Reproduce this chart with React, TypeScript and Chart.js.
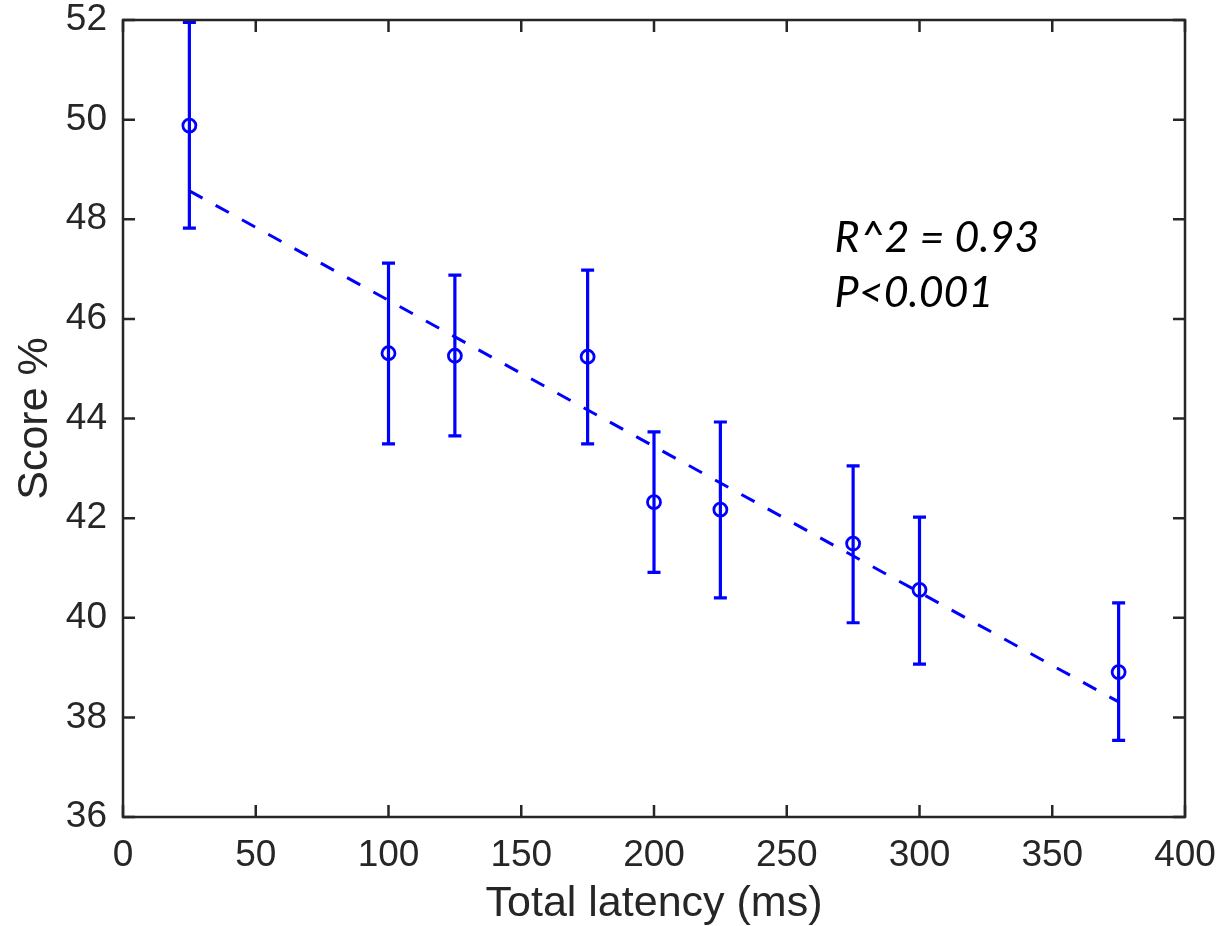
import React, { useEffect, useRef } from "react";
import { Chart, registerables } from "chart.js";

Chart.register(...registerables);

const latency = [25, 100, 125, 175, 200, 225, 275, 300, 375];
const scoreMean = [49.88, 45.31, 45.26, 45.24, 42.32, 42.17, 41.49, 40.56, 38.91];
const scoreUpper = [51.95, 47.12, 46.88, 46.98, 43.73, 43.93, 43.05, 42.02, 40.3];
const scoreLower = [47.82, 43.49, 43.65, 43.49, 40.91, 40.4, 39.9, 39.07, 37.54];
const fitX = [25, 375];
const fitY = [48.57, 38.31];
const annotationLines = ["R^2 = 0.93", "P<0.001"];
const annotationAnchor = { x: 268, y: 47.35 };

const BLUE = "#0000FF";
const AXIS = "#262626";

const errorBarPlugin = {
  id: "errorBars",
  afterDatasetsDraw(chart: any) {
    const { ctx, scales, chartArea } = chart;
    const xs = scales.x;
    const ys = scales.y;
    ctx.save();
    ctx.beginPath();
    ctx.rect(chartArea.left - 2, chartArea.top - 2, chartArea.right - chartArea.left + 4, chartArea.bottom - chartArea.top + 4);
    ctx.clip();
    ctx.strokeStyle = BLUE;
    ctx.lineWidth = 3.2;
    const cap = 6.5;
    latency.forEach((x, i) => {
      const px = xs.getPixelForValue(x);
      const pu = ys.getPixelForValue(scoreUpper[i]);
      const pl = ys.getPixelForValue(scoreLower[i]);
      ctx.beginPath();
      ctx.moveTo(px, pu);
      ctx.lineTo(px, pl);
      ctx.moveTo(px - cap, pu);
      ctx.lineTo(px + cap, pu);
      ctx.moveTo(px - cap, pl);
      ctx.lineTo(px + cap, pl);
      ctx.stroke();
    });
    ctx.restore();
  },
};

const boxPlugin = {
  id: "matlabBox",
  afterDraw(chart: any) {
    const { ctx, scales, chartArea } = chart;
    const { left, right, top, bottom } = chartArea;
    const tl = 12;
    ctx.save();
    ctx.strokeStyle = AXIS;
    ctx.lineWidth = 2.5;
    ctx.beginPath();
    scales.x.ticks.forEach((t: any) => {
      const px = scales.x.getPixelForValue(t.value);
      ctx.moveTo(px, bottom);
      ctx.lineTo(px, bottom - tl);
      ctx.moveTo(px, top);
      ctx.lineTo(px, top + tl);
    });
    scales.y.ticks.forEach((t: any) => {
      const py = scales.y.getPixelForValue(t.value);
      ctx.moveTo(left, py);
      ctx.lineTo(left + tl, py);
      ctx.moveTo(right, py);
      ctx.lineTo(right - tl, py);
    });
    ctx.stroke();
    ctx.strokeRect(left, top, right - left, bottom - top);

    // annotation
    const ax = scales.x.getPixelForValue(annotationAnchor.x);
    const ay = scales.y.getPixelForValue(annotationAnchor.y);
    ctx.fillStyle = "#000000";
    ctx.font = "italic 43px Lato";
    ctx.textAlign = "left";
    ctx.textBaseline = "alphabetic";
    annotationLines.forEach((line, i) => {
      ctx.fillText(line, ax, ay + i * 55);
    });
    ctx.restore();
  },
};

function zeroPadding(scale: any) {
  scale.paddingTop = 0;
  scale.paddingBottom = 0;
  scale.paddingLeft = 0;
  scale.paddingRight = 0;
}

export default function App() {
  const canvasRef = useRef<HTMLCanvasElement | null>(null);

  useEffect(() => {
    document.body.style.margin = "0";
    const canvas = canvasRef.current;
    if (!canvas) return;
    const chart = new Chart(canvas, {
      type: "scatter",
      data: {
        datasets: [
          {
            type: "line",
            data: fitX.map((x, i) => ({ x, y: fitY[i] })),
            borderColor: BLUE,
            borderWidth: 3,
            borderDash: [15, 15],
            pointRadius: 0,
            fill: false,
          },
          {
            type: "scatter",
            data: latency.map((x, i) => ({ x, y: scoreMean[i] })),
            pointStyle: "circle",
            pointRadius: 6.5,
            borderColor: BLUE,
            borderWidth: 2.8,
            backgroundColor: "rgba(0,0,0,0)",
          },
        ],
      },
      options: {
        animation: false,
        responsive: false,
        devicePixelRatio: 1,
        layout: { padding: { top: 20, right: 37, left: 0, bottom: 0 } },
        plugins: {
          legend: { display: false },
          tooltip: { enabled: false },
        },
        scales: {
          x: {
            type: "linear",
            min: 0,
            max: 400,
            grid: { display: false },
            border: { display: false },
            ticks: {
              stepSize: 50,
              padding: 9,
              color: AXIS,
              font: { family: "'Liberation Sans', Arial, sans-serif", size: 37 },
              maxRotation: 0,
            },
            title: {
              display: true,
              text: "Total latency (ms)",
              color: AXIS,
              font: { family: "'Liberation Sans', Arial, sans-serif", size: 43, lineHeight: 1 },
              padding: { top: 0, bottom: 0 },
            },
            afterFit(scale: any) {
              scale.height = 109;
              zeroPadding(scale);
            },
          },
          y: {
            type: "linear",
            min: 36,
            max: 52,
            grid: { display: false },
            border: { display: false },
            ticks: {
              stepSize: 2,
              padding: 8,
              color: AXIS,
              font: { family: "'Liberation Sans', Arial, sans-serif", size: 37 },
            },
            title: {
              display: true,
              text: "Score %",
              color: AXIS,
              font: { family: "'Liberation Sans', Arial, sans-serif", size: 43, lineHeight: 1 },
              padding: { top: 14, bottom: 0 },
            },
            afterFit(scale: any) {
              scale.width = 123;
              zeroPadding(scale);
            },
          },
        },
      } as any,
      plugins: [errorBarPlugin, boxPlugin],
    });
    return () => chart.destroy();
  }, []);

  return (
    <div style={{ position: "absolute", left: 0, top: 0, width: 1222, height: 926, background: "#fff" }}>
      <canvas ref={canvasRef} width={1222} height={926} style={{ width: 1222, height: 926 }} />
    </div>
  );
}
